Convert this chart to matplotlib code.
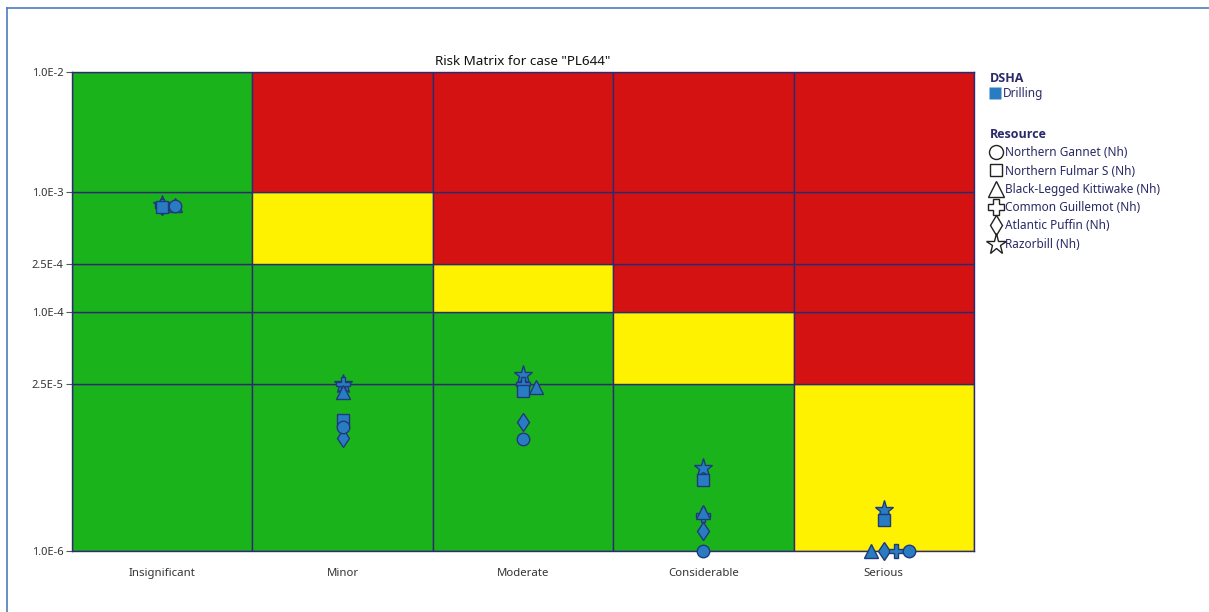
import matplotlib.pyplot as plt
from matplotlib.lines import Line2D
import numpy as np

plt.rcParams['font.family'] = ['Noto Sans', 'DejaVu Sans']

# consequence classes and probability bands
categories = ['Insignificant', 'Minor', 'Moderate', 'Considerable', 'Serious']
band_edges = [1e-6, 2.5e-5, 1e-4, 2.5e-4, 1e-3, 1e-2]
tick_labels = ['1.0E-6', '2.5E-5', '1.0E-4', '2.5E-4', '1.0E-3', '1.0E-2']

# acceptance zones, bottom band first (G = acceptable, Y = ALARP, R = unacceptable)
zones = [
    ['G', 'G', 'G', 'G', 'Y'],
    ['G', 'G', 'G', 'Y', 'R'],
    ['G', 'G', 'Y', 'R', 'R'],
    ['G', 'Y', 'R', 'R', 'R'],
    ['G', 'R', 'R', 'R', 'R'],
]

# frequency per consequence class for each resource (Drilling)
species = ['Northern Gannet (Nh)', 'Northern Fulmar S (Nh)', 'Black-Legged Kittiwake (Nh)',
           'Common Guillemot (Nh)', 'Atlantic Puffin (Nh)', 'Razorbill (Nh)']
gannet = [7.6e-4, 1.08e-5, 8.6e-6, 1.0e-6, 1.0e-6]
fulmar = [7.4e-4, 1.24e-5, 2.17e-5, 3.9e-6, 1.8e-6]
kittiwake = [7.7e-4, 2.13e-5, 2.35e-5, 2.1e-6, 1.0e-6]
guillemot = [7.6e-4, 2.5e-5, 2.5e-5, 2.0e-6, 1.0e-6]
puffin = [7.6e-4, 8.8e-6, 1.2e-5, 1.47e-6, 1.0e-6]
razorbill = [7.8e-4, 2.5e-5, 2.95e-5, 4.9e-6, 2.2e-6]
series = [gannet, fulmar, kittiwake, guillemot, puffin, razorbill]

zone_colors = {'G': '#1bb31b', 'Y': '#fff200', 'R': '#d41212'}
markers = ['o', 's', '^', 'P', 'd', '*']
sizes = [9, 8, 10.5, 10, 9.5, 14]
# sideways shift so overlapping points stay visible
dodge = [
    [0.07, 0, 0, 0, 0.14],
    [0, 0, 0, 0, 0],
    [0.07, 0, 0.07, 0, -0.07],
    [0, 0, 0, 0, 0.07],
    [0, 0, 0, 0, 0],
    [0, 0, 0, 0, 0],
]

fig = plt.figure(figsize=(12.09, 6.12), dpi=100)
ax = fig.add_axes([72 / 1209, 1 - 551 / 612, (974 - 72) / 1209, (551 - 72) / 612])

grid_col = '#2e2a6e'
x = np.arange(len(categories))
for i in range(len(band_edges) - 1):
    lo, hi = band_edges[i], band_edges[i + 1]
    ax.bar(x, hi - lo, bottom=lo, width=1.0,
           color=[zone_colors[z] for z in zones[i]],
           edgecolor=grid_col, linewidth=1.0, zorder=1)

# last series first so gannet/fulmar end up on top
for vals, mk, ms, dx in reversed(list(zip(series, markers, sizes, dodge))):
    ax.plot(x + np.array(dx), vals, linestyle='none', marker=mk, markersize=ms,
            markerfacecolor='#2a7cc2', markeredgecolor='#1f3a78', markeredgewidth=1.0,
            zorder=3, clip_on=False)

ax.set_yscale('log')
ax.set_ylim(band_edges[0], band_edges[-1])
ax.set_xlim(-0.5, len(categories) - 0.5)
ax.set_yticks(band_edges)
ax.set_yticklabels(tick_labels)
ax.yaxis.set_minor_locator(plt.NullLocator())
ax.set_xticks(x)
ax.set_xticklabels(categories)
ax.tick_params(axis='y', length=4, color='#555555', labelsize=8, labelcolor='#333333', pad=2)
ax.tick_params(axis='x', length=0, labelsize=8.2, labelcolor='#333333', pad=12)
for s in ax.spines.values():
    s.set_color(grid_col)
    s.set_linewidth(1.0)

ax.set_title('Risk Matrix for case "PL644"', fontsize=9.7, color='#111111', pad=5)

# legends
leg_txt = '#2a2a66'
title_font = {'family': ['Open Sans', 'DejaVu Sans'], 'weight': 'bold', 'size': 9}
dsha_handles = [Line2D([], [], linestyle='none', marker='s', markersize=8,
                       markerfacecolor='#2a7cc2', markeredgecolor='none')]
leg1 = fig.legend(dsha_handles, ['Drilling'], title='DSHA', loc='upper left',
                  bbox_to_anchor=(984 / 1209, 1 - 66 / 612), frameon=False,
                  fontsize=8.5, title_fontproperties=title_font, handlelength=0.8,
                  handletextpad=0.3, borderpad=0, labelspacing=0.2, alignment='left',
                  labelcolor=leg_txt)
leg1.get_title().set_color(leg_txt)

res_handles = [Line2D([], [], linestyle='none', marker=mk, markersize=ms * 1.12,
                      markerfacecolor='none', markeredgecolor='#222222', markeredgewidth=1.0)
               for mk, ms in zip(markers, sizes)]
leg2 = fig.legend(res_handles, species, title='Resource', loc='upper left',
                  bbox_to_anchor=(984 / 1209, 1 - 122 / 612), frameon=False,
                  fontsize=8.5, title_fontproperties=title_font, handlelength=1.0,
                  handletextpad=0.3, borderpad=0, labelspacing=0.45, alignment='left',
                  labelcolor=leg_txt)
leg2.get_title().set_color(leg_txt)

# panel frame
frame_col = '#4a7ebb'
fig.add_artist(Line2D([7 / 1209, 7 / 1209], [0, 1 - 8 / 612], transform=fig.transFigure,
                      color=frame_col, linewidth=1.2))
fig.add_artist(Line2D([7 / 1209, 1], [1 - 8 / 612, 1 - 8 / 612], transform=fig.transFigure,
                      color=frame_col, linewidth=1.2))

fig.savefig('out.png', dpi=100)
